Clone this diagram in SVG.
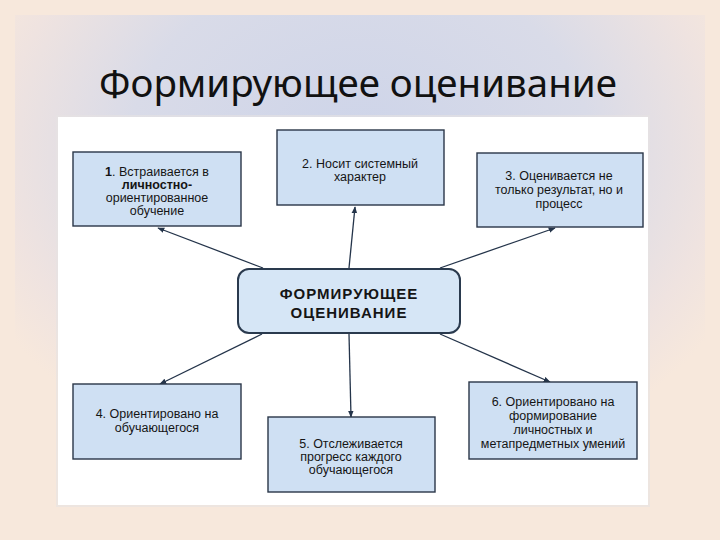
<svg xmlns="http://www.w3.org/2000/svg" width="720" height="540" viewBox="0 0 720 540">
<defs>
<radialGradient id="bg" cx="360" cy="150" r="420" gradientUnits="userSpaceOnUse" gradientTransform="translate(360 150) scale(1 0.8) translate(-360 -150)">
<stop offset="0" stop-color="#cdd4e9"/>
<stop offset="0.55" stop-color="#d9dbe8"/>
<stop offset="0.85" stop-color="#efe3e0"/>
<stop offset="1" stop-color="#f7e8dc"/>
</radialGradient>
<marker id="ah" viewBox="0 0 10 10" refX="9" refY="5" markerWidth="7" markerHeight="7" orient="auto" markerUnits="userSpaceOnUse">
<path d="M0,1 L10,5 L0,9 Z" fill="#24344a"/>
</marker>
<style>
.box{fill:#cfe0f3;stroke:#2a3648;stroke-width:1.4}
.ctr{fill:#d6e6f6;stroke:#2a3a4e;stroke-width:2}
.t{font-family:"Liberation Sans",Arial,sans-serif;font-size:12.5px;fill:#151515;text-anchor:middle}
.tb{font-family:"Liberation Sans",Arial,sans-serif;font-size:15px;letter-spacing:1px;font-weight:bold;fill:#151515;text-anchor:middle}
.ln{stroke:#24344a;stroke-width:1.3;fill:none;marker-end:url(#ah)}
</style>
</defs>
<rect x="0" y="0" width="720" height="540" fill="#f7e8dc"/>
<rect x="15" y="15" width="690" height="510" fill="url(#bg)"/>
<text x="358" y="97" font-family="'Noto Sans','Open Sans',sans-serif" font-size="38.5" fill="#111" text-anchor="middle">Формирующее оценивание</text>
<rect x="56" y="115" width="594" height="392" fill="#e6e2e2" opacity="0.6"/>
<rect x="58" y="117" width="590" height="388" fill="#ffffff"/>

<g id="connectors">
<line class="ln" x1="263" y1="268" x2="158" y2="228"/>
<line class="ln" x1="349" y1="268" x2="355" y2="207"/>
<line class="ln" x1="440" y1="268" x2="555" y2="228"/>
<line class="ln" x1="262" y1="334" x2="160" y2="384"/>
<line class="ln" x1="349" y1="334" x2="351" y2="417"/>
<line class="ln" x1="440" y1="334" x2="550" y2="382"/>
</g>

<g id="center">
<rect class="ctr" x="238" y="269" width="222" height="64" rx="11"/>
<text class="tb" x="349" y="299">ФОРМИРУЮЩЕЕ</text>
<text class="tb" x="349" y="318">ОЦЕНИВАНИЕ</text>
</g>

<g id="n1">
<rect class="box" x="73" y="152" width="168" height="74"/>
<text class="t" x="157" y="176"><tspan font-weight="bold">1</tspan>. Встраивается в</text>
<text class="t" x="157" y="189" font-weight="bold">личностно-</text>
<text class="t" x="157" y="202">ориентированное</text>
<text class="t" x="157" y="215">обучение</text>
</g>

<g id="n2">
<rect class="box" x="277" y="130" width="167" height="75"/>
<text class="t" x="360" y="168">2. Носит системный</text>
<text class="t" x="360" y="181">характер</text>
</g>

<g id="n3">
<rect class="box" x="477" y="153" width="166" height="74"/>
<text class="t" x="559" y="180">3. Оценивается не</text>
<text class="t" x="559" y="194">только результат, но и</text>
<text class="t" x="559" y="208">процесс</text>
</g>

<g id="n4">
<rect class="box" x="73" y="384" width="168" height="75"/>
<text class="t" x="157" y="418">4. Ориентировано на</text>
<text class="t" x="157" y="432">обучающегося</text>
</g>

<g id="n5">
<rect class="box" x="268" y="417" width="167" height="75"/>
<text class="t" x="351" y="448">5. Отслеживается</text>
<text class="t" x="351" y="461">прогресс каждого</text>
<text class="t" x="351" y="474">обучающегося</text>
</g>

<g id="n6">
<rect class="box" x="469" y="382" width="168" height="77"/>
<text class="t" x="553" y="406">6. Ориентировано на</text>
<text class="t" x="553" y="420">формирование</text>
<text class="t" x="553" y="434">личностных и</text>
<text class="t" x="553" y="448">метапредметных умений</text>
</g>
</svg>
